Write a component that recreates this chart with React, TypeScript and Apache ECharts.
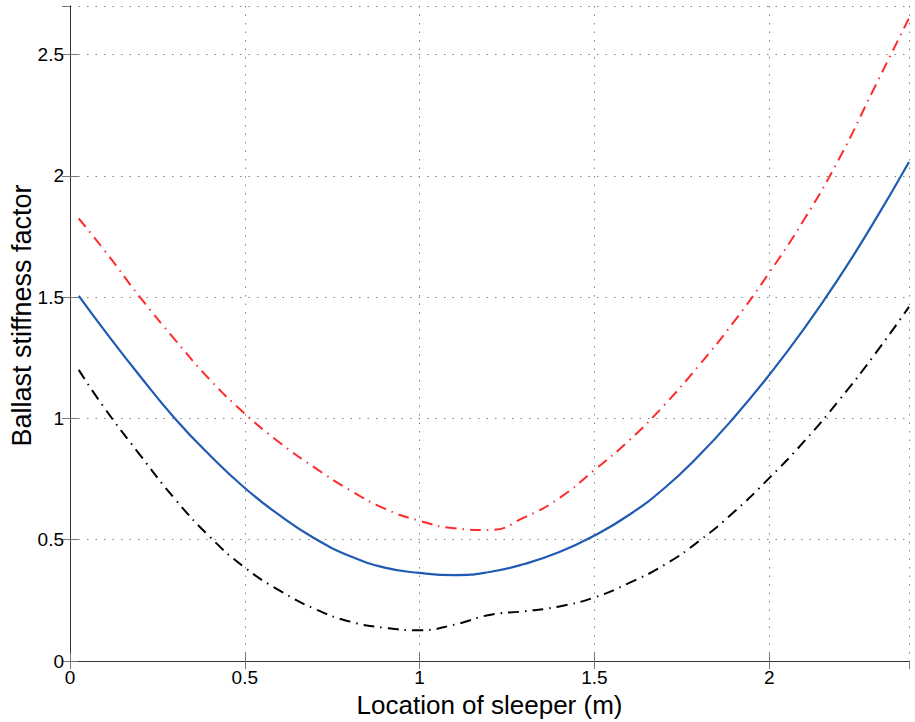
import React, { useEffect, useRef } from "react";
import * as echarts from "echarts";

const xs = [0.025, 0.1, 0.2, 0.3, 0.4, 0.5, 0.6, 0.7, 0.8, 0.9, 1.0, 1.1, 1.2, 1.3, 1.4, 1.5, 1.6, 1.7, 1.8, 1.9, 2.0, 2.1, 2.2, 2.3, 2.4];
const blueY = [1.505, 1.36, 1.175, 1.0, 0.848, 0.713, 0.6, 0.505, 0.433, 0.385, 0.363, 0.354, 0.367, 0.4, 0.449, 0.517, 0.603, 0.712, 0.848, 1.005, 1.179, 1.37, 1.58, 1.81, 2.057];
const redY = [1.824, 1.69, 1.5, 1.325, 1.16, 1.02, 0.9, 0.797, 0.705, 0.628, 0.578, 0.547, 0.54, 0.592, 0.672, 0.787, 0.91, 1.055, 1.22, 1.4, 1.6, 1.82, 2.07, 2.36, 2.65];
const blackY = [1.2, 1.04, 0.85, 0.668, 0.512, 0.385, 0.29, 0.215, 0.163, 0.137, 0.127, 0.15, 0.19, 0.205, 0.225, 0.262, 0.322, 0.396, 0.495, 0.615, 0.754, 0.905, 1.075, 1.26, 1.46];

const xTitle = "Location of sleeper (m)";
const yTitle = "Ballast stiffness factor";

const FONT = "'Liberation Sans', Arial, Helvetica, sans-serif";

export default function App() {
  const ref = useRef<HTMLDivElement>(null);
  useEffect(() => {
    if (!ref.current) return;
    const chart = echarts.init(ref.current, undefined, { renderer: "svg" });
    const pair = (ys: number[]) => xs.map((x, i) => [x, ys[i]]);
    const axisLine = { show: true, lineStyle: { color: "#333", width: 1 } };
    const tick = { show: true, inside: true, length: 8, lineStyle: { color: "#777", width: 1 } };
    const grid = { show: true, lineStyle: { color: "#808080", width: 1, type: [1.5, 7] as any } };
    const dashDot = [11, 6, 1.5, 6];
    chart.setOption({
      animation: false,
      backgroundColor: "#fff",
      grid: { left: 70, right: 6, top: 6, bottom: 61, containLabel: false, outerBoundsMode: "none" },
      xAxis: [
        {
          type: "value", min: 0, max: 2.4, interval: 0.5,
          axisLine, axisTick: tick, splitLine: grid,
          axisLabel: { color: "#000", fontSize: 19, fontFamily: FONT, margin: 7, showMaxLabel: false },
          name: xTitle, nameLocation: "middle", nameGap: 30,
          nameTextStyle: { color: "#000", fontSize: 26, fontFamily: FONT },
        },
        {
          type: "value", position: "top", min: 0, max: 2.4, interval: 0.5,
          axisLine, axisTick: tick, splitLine: { show: false }, axisLabel: { show: false },
        },
      ],
      yAxis: [
        {
          type: "value", min: 0, max: 2.7, interval: 0.5,
          axisLine, axisTick: tick, splitLine: grid,
          axisLabel: { color: "#000", fontSize: 19, fontFamily: FONT, margin: 6, showMaxLabel: false },
          name: yTitle, nameLocation: "middle", nameGap: 33, nameMoveOverlap: false,
          nameTextStyle: { color: "#000", fontSize: 27, fontFamily: FONT, lineHeight: 30, padding: [0, 0, 0, 36] },
        },
        {
          type: "value", position: "right", min: 0, max: 2.7, interval: 0.5,
          axisLine, axisTick: tick, splitLine: { show: false }, axisLabel: { show: false },
        },
      ],
      series: [
        {
          type: "line", data: pair(redY), showSymbol: false, smooth: 0.5,
          lineStyle: { color: "#ff2a2a", width: 2, type: dashDot },
        },
        {
          type: "line", data: pair(blueY), showSymbol: false, smooth: 0.5,
          lineStyle: { color: "#1f5bb4", width: 2.2, type: "solid" },
        },
        {
          type: "line", data: pair(blackY), showSymbol: false, smooth: 0.5,
          lineStyle: { color: "#000", width: 2, type: dashDot },
        },
      ],
    });
    return () => chart.dispose();
  }, []);
  return (
    <div
      ref={ref}
      style={{ position: "fixed", left: 0, top: 0, width: 915, height: 722, background: "#fff" }}
    />
  );
}
